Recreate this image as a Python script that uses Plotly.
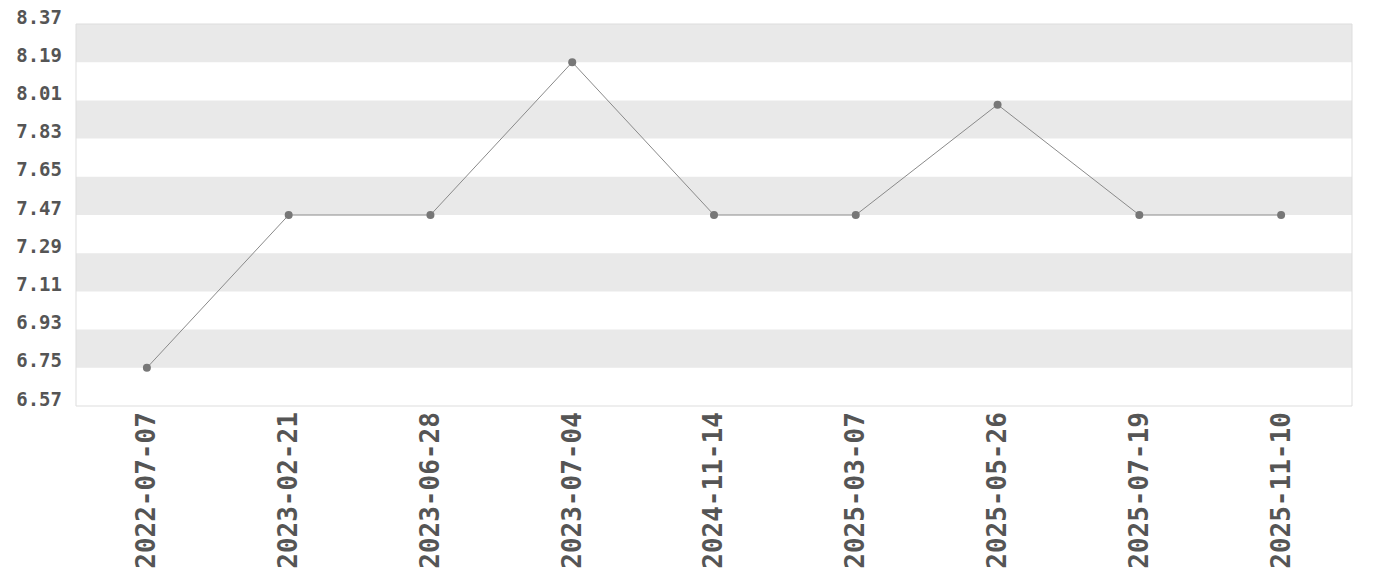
import plotly.graph_objects as go

dates = ["2022-07-07", "2023-02-21", "2023-06-28", "2023-07-04", "2024-11-14",
         "2025-03-07", "2025-05-26", "2025-07-19", "2025-11-10"]
values = [6.75, 7.47, 7.47, 8.19, 7.47, 7.47, 7.99, 7.47, 7.47]
y_ticks = [6.57, 6.75, 6.93, 7.11, 7.29, 7.47, 7.65, 7.83, 8.01, 8.19, 8.37]

fig = go.Figure()
fig.add_trace(go.Scatter(
    x=dates, y=values, mode="lines+markers",
    line=dict(color="#8a8a8a", width=1),
    marker=dict(color="#777777", size=8),
    showlegend=False,
))

shapes = []
for i in range(len(y_ticks) - 1):
    if (len(y_ticks) - 2 - i) % 2 == 0:
        shapes.append(dict(type="rect", xref="paper", yref="y", x0=0, x1=1,
                           y0=y_ticks[i], y1=y_ticks[i + 1],
                           fillcolor="#e9e9e9", line=dict(width=0), layer="below"))
shapes.append(dict(type="rect", xref="paper", yref="paper", x0=0, x1=1, y0=0, y1=1,
                   line=dict(color="#dddddd", width=1), layer="above"))

fig.update_layout(
    width=1380, height=580,
    margin=dict(l=68, r=36, t=16, b=182, autoexpand=False),
    plot_bgcolor="white", paper_bgcolor="white",
    shapes=shapes,
    font=dict(family="DejaVu Sans Mono", color="#555555"),
    xaxis=dict(type="category", tickangle=-90, showgrid=False, zeroline=False,
               tickfont=dict(size=26, family="DejaVu Sans Mono", weight="bold"),
               ticks="", ticklen=0, range=[-0.5, 8.5], automargin=False,
               ticklabelstandoff=0),
    yaxis=dict(range=[6.57, 8.37], tickvals=y_ticks, ticktext=[f"{v:.2f}" for v in y_ticks],
               showgrid=False, zeroline=False, ticks="", automargin=False,
               ticklabelstandoff=13, ticklabelshift=-7, ticklabeloverflow="allow",
               tickfont=dict(size=19, family="DejaVu Sans Mono", weight="bold")),
)
fig.write_html("out.html")
